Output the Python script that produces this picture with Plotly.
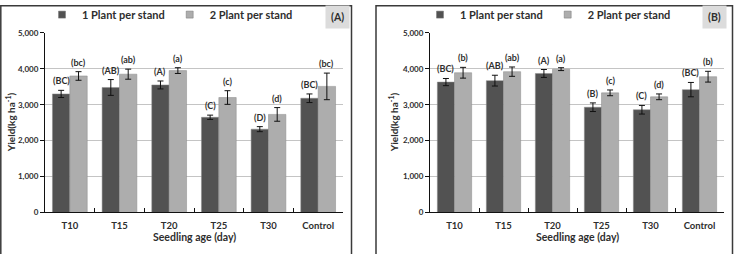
import plotly.graph_objects as go

cats = ["T10", "T15", "T20", "T25", "T30", "Control"]

# Panel A
a1 = [3300, 3480, 3550, 2650, 2320, 3180]
a1_err = [100, 220, 110, 60, 70, 120]
a2 = [3800, 3850, 3950, 3200, 2730, 3510]
a2_err = [120, 140, 80, 190, 190, 370]
a1_lbl = ["(BC)", "(AB)", "(A)", "(C)", "(D)", "(BC)"]
a2_lbl = ["(bc)", "(ab)", "(a)", "(c)", "(d)", "(bc)"]

# Panel B
b1 = [3630, 3670, 3870, 2930, 2860, 3420]
b1_err = [100, 150, 110, 120, 120, 200]
b2 = [3890, 3920, 3990, 3330, 3220, 3780]
b2_err = [150, 130, 40, 80, 80, 150]
b1_lbl = ["(BC)", "(AB)", "(A)", "(B)", "(C)", "(BC)"]
b2_lbl = ["(b)", "(ab)", "(a)", "(c)", "(d)", "(b)"]

series_names = ["1 Plant per stand", "2 Plant per stand"]
y_ticks = [0, 1000, 2000, 3000, 4000, 5000]

W, H = 737, 254
DARK = "#525252"
LIGHT = "#adadad"
TXT = "#2e2e2e"
FONT = "Lato"

def px(x):
    return x / W

def py(y):
    return 1 - y / H

fig = go.Figure()

panels = [
    ("x", "y", "legend", a1, a1_err, a2, a2_err, a1_lbl, a2_lbl),
    ("x2", "y2", "legend2", b1, b1_err, b2, b2_err, b1_lbl, b2_lbl),
]

for xa, ya, lg, v1, e1, v2, e2, l1, l2 in panels:
    for vals, errs, col, grp in [(v1, e1, DARK, "1"), (v2, e2, LIGHT, "2")]:
        fig.add_trace(go.Bar(
            x=cats, y=vals, xaxis=xa, yaxis=ya, offsetgroup=grp,
            marker=dict(color=col, line=dict(color="#8a8a8a", width=0.5)),
            error_y=dict(type="data", array=errs, color="#111111", thickness=1, width=3),
            showlegend=False,
        ))
    for name, col in zip(series_names, [DARK, LIGHT]):
        fig.add_trace(go.Scatter(
            x=[None], y=[None], mode="markers", name=name, legend=lg,
            marker=dict(symbol="square", size=7, color=col, line=dict(color="#777", width=0.5)),
            xaxis=xa, yaxis=ya,
        ))

    for vals, errs, lbls, shift in [(v1, e1, l1, -8.7), (v2, e2, l2, 8.7)]:
        for c, v, e, t in zip(cats, vals, errs, lbls):
            fig.add_annotation(
                x=c, y=v + e, xref=xa, yref=ya, text=t, showarrow=False,
                xshift=shift, yshift=2, yanchor="bottom", xanchor="center",
                font=dict(family=FONT, size=9, color=TXT, weight="bold"),
            )

axis_common_x = dict(
    type="category", showline=True, linecolor="#111111", linewidth=1,
    ticks="inside", ticklen=4, tickcolor="#111111", tickson="boundaries",
    showgrid=False, tickfont=dict(family=FONT, size=9.5, color=TXT, weight="bold"),
    ticklabelstandoff=4, fixedrange=True,
)
axis_common_y = dict(
    range=[0, 5000], tickvals=y_ticks, tickformat=",", showline=True,
    linecolor="#111111", linewidth=1, ticks="outside", ticklen=4,
    tickcolor="#111111", showgrid=True, gridcolor="#c4c4c4", gridwidth=1,
    zeroline=False, tickfont=dict(family=FONT, size=8, color=TXT, weight="bold"),
    fixedrange=True,
)

legend_common = dict(
    orientation="h", yanchor="middle", y=py(10), xanchor="left",
    font=dict(family=FONT, size=11, color=TXT, weight="bold"),
    bgcolor="rgba(0,0,0,0)", itemwidth=30, traceorder="normal",
)

fig.update_layout(
    width=W, height=H, margin=dict(l=0, r=0, t=0, b=0),
    paper_bgcolor="white", plot_bgcolor="white",
    barmode="group", bargap=0.3, bargroupgap=0,
    xaxis=dict(domain=[px(45), px(343)], anchor="y", **axis_common_x),
    yaxis=dict(domain=[py(216), py(29)], anchor="x", **axis_common_y),
    xaxis2=dict(domain=[px(430), px(724)], anchor="y2", **axis_common_x),
    yaxis2=dict(domain=[py(216), py(29)], anchor="x2", **axis_common_y),
    legend=dict(x=px(42), **legend_common),
    legend2=dict(x=px(420), **legend_common),
)

# Axis titles and panel tags
for xc, ytx, tag, tagx in [(194, 10, "(A)", 337.5), (577, 393, "(B)", 714)]:
    fig.add_annotation(x=px(xc), y=py(242), xref="paper", yref="paper",
                       xanchor="center", yanchor="middle",
                       text="Seedling age (day)", showarrow=False,
                       font=dict(family=FONT, size=10.5, color=TXT, weight="bold"))
    fig.add_annotation(x=px(ytx), y=py(122), xref="paper", yref="paper",
                       xanchor="center", yanchor="middle",
                       text="Yield(kg ha<sup>-1</sup>)", textangle=-90, showarrow=False,
                       font=dict(family=FONT, size=10, color=TXT, weight="bold"))
    fig.add_annotation(x=px(tagx), y=py(12), xref="paper", yref="paper",
                       xanchor="center", yanchor="middle",
                       text=tag, showarrow=False, bgcolor="#dcdcdc", borderpad=5,
                       font=dict(family=FONT, size=10.5, color=TXT, weight="bold"))

# Panel frames
for x0, x1 in [(0.8, 351.5), (376, 732.5)]:
    fig.add_shape(type="rect", xref="paper", yref="paper",
                  x0=px(x0), x1=px(x1), y0=-0.1, y1=py(0.8),
                  line=dict(color="#3a3a3a", width=1.5), fillcolor="rgba(0,0,0,0)")

fig.write_html("out.html")
